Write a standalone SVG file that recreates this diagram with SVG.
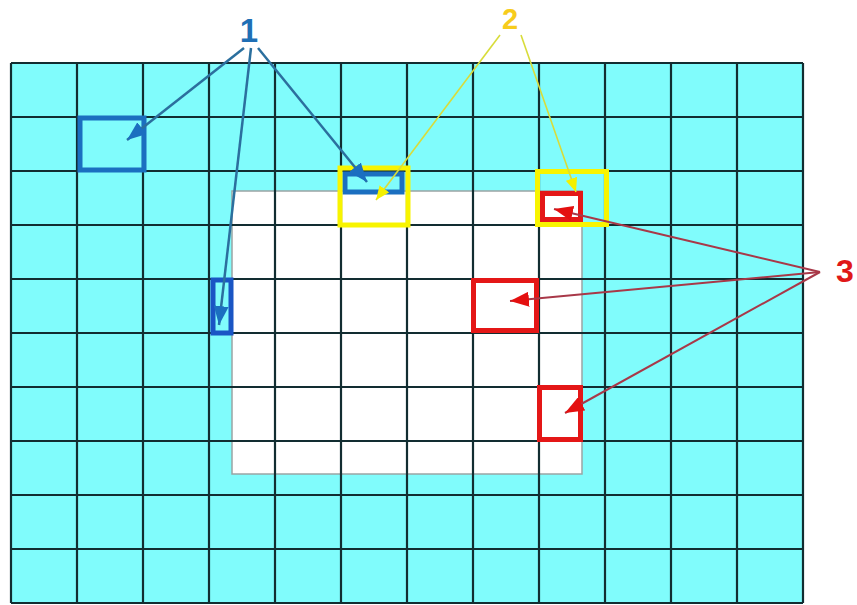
<svg xmlns="http://www.w3.org/2000/svg" width="857" height="605" viewBox="0 0 857 605">
<style>
.grid line{stroke:#122d31;stroke-width:2.2}
.box{fill:none;stroke-width:5}
.blue{stroke:#1b6fc0}
.dblue{stroke:#1a55c4}
.yellow{stroke:#f8f400}
.red{stroke:#e41717}
.c1{stroke:#2b6f9e;stroke-width:2.5;fill:none}
.c2{stroke:#d8dc3a;stroke-width:1.6;fill:none}
.c3{stroke:#a83848;stroke-width:2;fill:none}
.lbl{font-family:"Liberation Sans",Arial,sans-serif;font-weight:bold;text-anchor:middle}
</style>
<defs>
<marker id="ab" markerUnits="userSpaceOnUse" markerWidth="20" markerHeight="15" refX="19" refY="7.5" orient="auto"><path d="M0,0 L19,7.5 L0,15 z" fill="#1b6fc0"/></marker>
<marker id="ay" markerUnits="userSpaceOnUse" markerWidth="15" markerHeight="12" refX="14" refY="6" orient="auto"><path d="M0,0 L14,6 L0,12 z" fill="#f4f000"/></marker>
<marker id="ar" markerUnits="userSpaceOnUse" markerWidth="20" markerHeight="15" refX="19" refY="7.5" orient="auto"><path d="M0,0 L19,7.5 L0,15 z" fill="#e41010"/></marker>
</defs>
<rect width="857" height="605" fill="#ffffff"/>
<g id="grid">
<rect x="11" y="63" width="792" height="540" fill="#80fcfc"/>
<rect id="white-area" x="232" y="191" width="350" height="283" fill="#ffffff" stroke="#9aa4a4" stroke-width="1.5"/>
<g class="grid">
<line x1="11" y1="63" x2="11" y2="603"/><line x1="77" y1="63" x2="77" y2="603"/><line x1="143" y1="63" x2="143" y2="603"/><line x1="209" y1="63" x2="209" y2="603"/><line x1="275" y1="63" x2="275" y2="603"/><line x1="341" y1="63" x2="341" y2="603"/><line x1="407" y1="63" x2="407" y2="603"/><line x1="473" y1="63" x2="473" y2="603"/><line x1="539" y1="63" x2="539" y2="603"/><line x1="605" y1="63" x2="605" y2="603"/><line x1="671" y1="63" x2="671" y2="603"/><line x1="737" y1="63" x2="737" y2="603"/><line x1="803" y1="63" x2="803" y2="603"/>
<line x1="11" y1="63" x2="803" y2="63"/><line x1="11" y1="117" x2="803" y2="117"/><line x1="11" y1="171" x2="803" y2="171"/><line x1="11" y1="225" x2="803" y2="225"/><line x1="11" y1="279" x2="803" y2="279"/><line x1="11" y1="333" x2="803" y2="333"/><line x1="11" y1="387" x2="803" y2="387"/><line x1="11" y1="441" x2="803" y2="441"/><line x1="11" y1="495" x2="803" y2="495"/><line x1="11" y1="549" x2="803" y2="549"/><line x1="11" y1="603" x2="803" y2="603"/>
</g>
</g>
<g id="box-blue-a"><rect class="box blue" x="80" y="118" width="64" height="52"/></g>
<g id="box-blue-b"><rect class="box blue" x="345" y="174" width="57" height="18"/></g>
<g id="box-blue-c"><rect class="box dblue" x="213" y="280" width="18" height="53" stroke-width="4"/></g>
<g id="box-yellow-d"><rect class="box yellow" x="340" y="168" width="68" height="57"/></g>
<g id="box-yellow-e"><rect class="box yellow" x="537.5" y="171.5" width="69" height="53"/></g>
<g id="box-red-f"><rect class="box red" x="542.5" y="193.5" width="38" height="26"/></g>
<g id="box-red-g"><rect class="box red" x="473.5" y="280.5" width="63" height="50"/></g>
<g id="box-red-h"><rect class="box red" x="539.5" y="387.5" width="41" height="52"/></g>
<g id="connectors">
<line class="c1" x1="244" y1="48" x2="127" y2="140" marker-end="url(#ab)"/>
<line class="c1" x1="258" y1="48" x2="367" y2="182" marker-end="url(#ab)"/>
<line class="c1" x1="251" y1="48" x2="219" y2="325" marker-end="url(#ab)"/>
<line class="c2" x1="500" y1="35" x2="376" y2="200" marker-end="url(#ay)"/>
<line class="c2" x1="521" y1="35" x2="576" y2="192" marker-end="url(#ay)"/>
<line class="c3" x1="820" y1="272" x2="554" y2="209" marker-end="url(#ar)"/>
<line class="c3" x1="820" y1="272" x2="510" y2="301" marker-end="url(#ar)"/>
<line class="c3" x1="820" y1="272" x2="565" y2="413" marker-end="url(#ar)"/>
</g>
<g id="label-1"><text class="lbl" x="249" y="42" font-size="33" fill="#1f6fb5">1</text></g>
<g id="label-2"><text class="lbl" x="510" y="29" font-size="29" fill="#f7cc1c">2</text></g>
<g id="label-3"><text class="lbl" x="845" y="282" font-size="32" fill="#e01818">3</text></g>
</svg>
